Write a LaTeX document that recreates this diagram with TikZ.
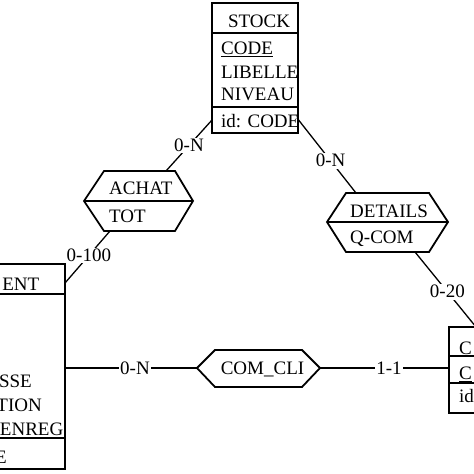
\documentclass[tikz,border=0pt]{standalone}
\usepackage{fontspec}
\setmainfont{Liberation Serif}
\begin{document}
\begin{tikzpicture}[x=1bp,y=-1bp,
  box/.style={line width=1.8pt},
  conn/.style={line width=1.3pt},
  txt/.style={inner sep=0pt,font=\fontsize{19bp}{22bp}\selectfont},
  lab/.style={fill=white,inner sep=1.5bp,font=\fontsize{19bp}{22bp}\selectfont}]
\useasboundingbox (0,0) rectangle (474,474);
\clip (0,0) rectangle (474,474);
% STOCK entity
\draw[box] (212,3) rectangle (298,133);
\draw[box] (212,33) -- (298,33);
\draw[box] (212,107) -- (298,107);
\node[txt,anchor=base] (stockT) at (259,28) {STOCK};
\node[txt,anchor=base west] (stockA) at (221,55) {\underline{CODE}};
\node[txt,anchor=base west] (stockB) at (221,78.5) {LIBELLE};
\node[txt,anchor=base west] (stockC) at (221,100.5) {NIVEAU};
\node[txt,anchor=base west] (stockD) at (221,127.5) {id: CODE};
\coordinate (stockL) at (212,120);
\coordinate (stockR) at (297,118);
% CLIENT entity (partially visible)
\draw[box] (-20,264) rectangle (65,469);
\draw[box] (-20,294) -- (65,294);
\draw[box] (-20,438) -- (65,438);
\node[txt,anchor=base east] (cliT) at (39.5,290) {ENT};
\node[txt,anchor=base east] (cliA) at (32,387) {SSE};
\node[txt,anchor=base east] (cliB) at (42,411) {TION};
\node[txt,anchor=base east] (cliC) at (63.5,435) {ENREG};
\node[txt,anchor=base east] (cliD) at (7,463) {E};
\coordinate (cliR) at (65,283);
\coordinate (cliM) at (65,368);
% COMMANDE entity (partially visible)
\draw[box] (449,327) rectangle (500,413);
\draw[box] (449,356) -- (500,356);
\draw[box] (449,383) -- (500,383);
\node[txt,anchor=base west] (cmdT) at (459,354) {C};
\node[txt,anchor=base west] (cmdA) at (459,379.5) {\underline{C}};
\node[txt,anchor=base west] (cmdB) at (459,402) {id};
\coordinate (cmdTop) at (476,327);
\coordinate (cmdL) at (449,368);
% ACHAT relationship
\draw[box] (84,201) -- (104,171) -- (175,171) -- (193,201) -- (175,231) -- (104,231) -- cycle;
\draw[box] (84,201) -- (193,201);
\node[txt,anchor=base west] (achT) at (109,194.5) {ACHAT};
\node[txt,anchor=base west] (achA) at (109,223) {TOT};
\coordinate (achTop) at (166,171);
\coordinate (achBot) at (110,231);
% DETAILS relationship
\draw[box] (327,222) -- (346,193) -- (429,193) -- (448,222) -- (429,252) -- (346,252) -- cycle;
\draw[box] (327,222) -- (448,222);
\node[txt,anchor=base west] (detT) at (350,217.5) {DETAILS};
\node[txt,anchor=base west] (detA) at (350,243.5) {Q-COM};
\coordinate (detTop) at (356,193);
\coordinate (detBot) at (415,252);
% COM_CLI relationship
\draw[box] (197,368) -- (215,350) -- (302,350) -- (320,368) -- (302,387) -- (215,387) -- cycle;
\node[txt,anchor=base] (ccT) at (262.5,374.5) {COM\_CLI};
\coordinate (ccL) at (197,368);
\coordinate (ccR) at (320,368);
% connectors
\draw[conn] (achTop) -- node[lab,pos=0.5] {0-N} (stockL);
\draw[conn] (stockR) -- node[lab,pos=0.57] {0-N} (detTop);
\draw[conn] (achBot) -- node[lab,pos=0.47] {0-100} (cliR);
\draw[conn] (detBot) -- node[lab,pos=0.53] {0-20} (cmdTop);
\draw[conn] (cliM) -- node[lab,pos=0.53] {0-N} (ccL);
\draw[conn] (ccR) -- node[lab,pos=0.535] {1-1} (cmdL);
\end{tikzpicture}
\end{document}
